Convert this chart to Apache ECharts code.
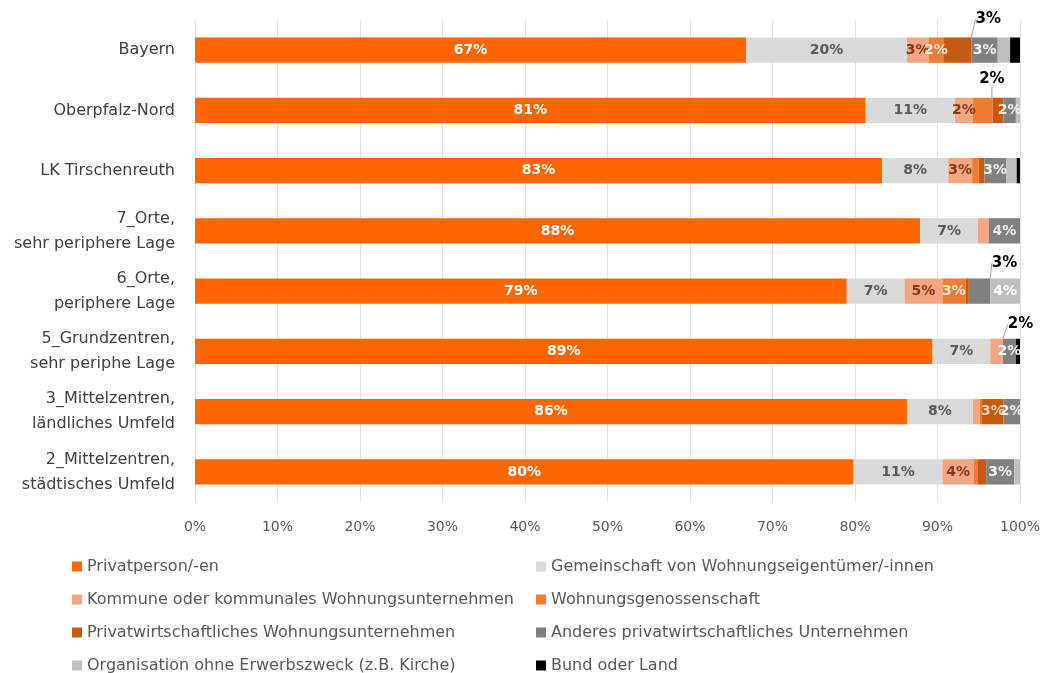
<!DOCTYPE html>
<html>
<head>
<meta charset="utf-8">
<script src="https://cdn.jsdelivr.net/npm/echarts@6/dist/echarts.min.js"></script>
<style>html,body{margin:0;padding:0;background:#fff}#c{width:1045px;height:673px}</style>
</head>
<body>
<div id="c"></div>
<script>
// Categories (top to bottom)
const categories = ['Bayern','Oberpfalz-Nord','LK Tirschenreuth','7_Orte,\nsehr periphere Lage','6_Orte,\nperiphere Lage','5_Grundzentren,\nsehr periphe Lage','3_Mittelzentren,\nländliches Umfeld','2_Mittelzentren,\nstädtisches Umfeld'];
const seriesNames = ['Privatperson/-en','Gemeinschaft von Wohnungseigentümer/-innen','Kommune oder kommunales Wohnungsunternehmen','Wohnungsgenossenschaft','Privatwirtschaftliches Wohnungsunternehmen','Anderes privatwirtschaftliches Unternehmen','Organisation ohne Erwerbszweck (z.B. Kirche)','Bund oder Land'];
// Shares in percent
const privat   = [66.8, 81.3, 83.3, 87.9, 79.0, 89.4, 86.3, 79.8];
const gemein   = [19.5, 10.8,  8.0,  7.0,  7.0,  7.0,  8.0, 10.8];
const kommune  = [ 2.6,  2.2,  2.9,  1.3,  4.6,  1.5,  0.8,  3.8];
const genoss   = [ 1.8,  2.4,  0.8,  0.0,  2.8,  0.0,  0.3,  0.5];
const privwirt = [ 3.4,  1.3,  0.7,  0.0,  0.4,  0.0,  2.6,  1.0];
const anderes  = [ 3.2,  1.5,  2.6,  3.8,  2.6,  1.6,  2.0,  3.4];
const organis  = [ 1.5,  0.5,  1.3,  0.0,  3.6,  0.0,  0.0,  0.7];
const bund     = [ 1.2,  0.0,  0.4,  0.0,  0.0,  0.5,  0.0,  0.0];
// Label visibility: 0 hidden, 1 inside, 2 callout above
const lblPrivat   = [1,1,1,1,1,1,1,1];
const lblGemein   = [1,1,1,1,1,1,1,1];
const lblKommune  = [1,1,1,0,1,2,0,1];
const lblGenoss   = [1,2,0,0,1,0,0,0];
const lblPrivwirt = [2,0,0,0,0,0,1,0];
const lblAnderes  = [1,1,1,1,2,1,1,1];
const lblOrganis  = [0,0,0,0,1,0,0,0];
const lblBund     = [0,0,0,0,0,0,0,0];
const xTicks = [0,10,20,30,40,50,60,70,80,90,100];

const values = [privat, gemein, kommune, genoss, privwirt, anderes, organis, bund];
const masks = [lblPrivat, lblGemein, lblKommune, lblGenoss, lblPrivwirt, lblAnderes, lblOrganis, lblBund];
const colors = ['#FF6600','#D9D9D9','#F4A582','#ED7D31','#C55A11','#808080','#BFBFBF','#000000'];
const labelColors = ['#FFFFFF','#595959','#843C0C','#FBE5D6','#F8CBAD','#F2F2F2','#FFFFFF','#FFFFFF'];
const calloutOffset = {'4-0':[31,-31], '3-1':[9,-31], '5-4':[25,-28], '2-5':[24,-27]};

const FONT = 'DejaVu Sans';
const series = values.map((arr, si) => ({
  name: seriesNames[si],
  type: 'bar',
  stack: 'total',
  barWidth: '42%',
  itemStyle: {color: colors[si]},
  data: arr.map((v, di) => {
    const m = masks[si][di];
    const item = {value: v};
    if (m === 0) item.label = {show: false};
    else if (m === 1) item.label = {show: true, position: 'inside', color: labelColors[si]};
    else {
      item.label = {show: true, position: 'inside', color: '#000', fontSize: 15};
      item.labelLine = {show: true, lineStyle: {color: '#A6A6A6', width: 1}};
    }
    return item;
  }),
  label: {show: true, fontFamily: FONT, fontWeight: 'bold', fontSize: 14,
    formatter: p => Math.round(p.value) + '%'},
  labelLine: {show: false},
  labelLayout: function (p) {
    const k = p.seriesIndex + '-' + p.dataIndex;
    if (calloutOffset[k]) return {dx: calloutOffset[k][0], dy: calloutOffset[k][1]};
    return {};
  }
}));

const legendBase = {orient: 'vertical', top: 557, height: 150, itemWidth: 10, itemHeight: 10,
  itemGap: 14, icon: 'rect', padding: 0,
  textStyle: {color: '#595959', fontSize: 16, fontFamily: FONT, lineHeight: 19}};

const chart = echarts.init(document.getElementById('c'), null, {renderer: 'canvas'});
chart.setOption({
  animation: false,
  textStyle: {fontFamily: FONT},
  grid: {left: 195, right: 25, top: 20, bottom: 171, containLabel: false},
  xAxis: {
    type: 'value', min: xTicks[0], max: xTicks[xTicks.length-1], interval: 10,
    axisLine: {show: false}, axisTick: {show: false},
    splitLine: {show: true, lineStyle: {color: '#E3E3E3', width: 1}},
    axisLabel: {formatter: '{value}%', color: '#595959', fontSize: 14, margin: 18, fontFamily: FONT}
  },
  yAxis: {
    type: 'category', inverse: true, data: categories,
    axisLine: {show: false}, axisTick: {show: false},
    axisLabel: {color: '#404040', fontSize: 16, margin: 20, lineHeight: 25, fontFamily: FONT}
  },
  legend: [
    Object.assign({}, legendBase, {left: 72, data: [seriesNames[0], seriesNames[2], seriesNames[4], seriesNames[6]]}),
    Object.assign({}, legendBase, {left: 536, data: [seriesNames[1], seriesNames[3], seriesNames[5], seriesNames[7]]})
  ],
  series: series
});
</script>
</body>
</html>
